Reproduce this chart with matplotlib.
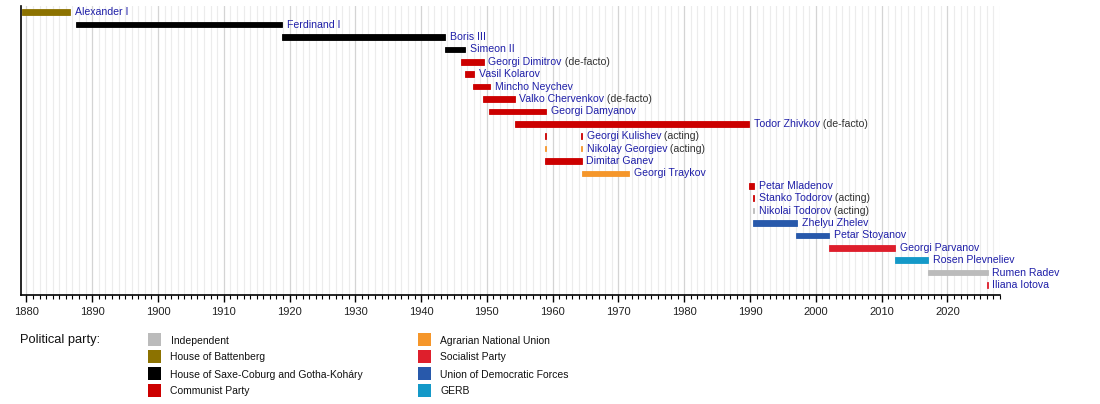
import matplotlib
matplotlib.use('Agg')
import matplotlib.pyplot as plt
from matplotlib.patches import Rectangle
from matplotlib.ticker import MultipleLocator

plt.rcParams['font.family'] = ['Liberation Sans', 'DejaVu Sans']

# parties and colours
party_names = ['Independent', 'House of Battenberg',
               'House of Saxe-Coburg and Gotha-Koháry', 'Communist Party',
               'Agrarian National Union', 'Socialist Party',
               'Union of Democratic Forces', 'GERB']
party_colors = ['#bbbbbb', '#8c7200', '#000000', '#cc0000',
                '#f5962a', '#de1f2c', '#2859ab', '#1499c8']

# heads of state, one row each
names = ['Alexander I', 'Ferdinand I', 'Boris III', 'Simeon II',
         'Georgi Dimitrov', 'Vasil Kolarov', 'Mincho Neychev',
         'Valko Chervenkov', 'Georgi Damyanov', 'Todor Zhivkov',
         'Georgi Kulishev', 'Nikolay Georgiev', 'Dimitar Ganev',
         'Georgi Traykov', 'Petar Mladenov', 'Stanko Todorov',
         'Nikolai Todorov', 'Zhelyu Zhelev', 'Petar Stoyanov',
         'Georgi Parvanov', 'Rosen Plevneliev', 'Rumen Radev', 'Iliana Iotova']
suffixes = ['', '', '', '', '(de-facto)', '', '', '(de-facto)', '',
            '(de-facto)', '(acting)', '(acting)', '', '', '', '(acting)',
            '(acting)', '', '', '', '', '', '']
periods = [
    [(1879.3, 1886.7)],
    [(1887.5, 1918.8)],
    [(1918.8, 1943.7)],
    [(1943.7, 1946.7)],
    [(1946.0, 1949.5)],
    [(1946.7, 1948.0)],
    [(1947.9, 1950.5)],
    [(1949.4, 1954.2)],
    [(1950.3, 1959.0)],
    [(1954.2, 1989.9)],
    [(1958.9, 1959.0), (1964.35, 1964.45)],
    [(1958.9, 1959.0), (1964.35, 1964.45)],
    [(1958.9, 1964.4)],
    [(1964.4, 1971.6)],
    [(1989.9, 1990.55)],
    [(1990.45, 1990.55)],
    [(1990.45, 1990.55)],
    [(1990.5, 1997.1)],
    [(1997.05, 2002.05)],
    [(2002.05, 2012.05)],
    [(2012.05, 2017.1)],
    [(2017.1, 2026.1)],
    [(2026.0, 2026.1)],
]
parties = [1, 2, 2, 2, 3, 3, 3, 3, 3, 3, 3, 4, 3, 4, 3, 3, 0, 6, 6, 5, 7, 0, 5]

fig = plt.figure(figsize=(11, 4.04), dpi=100)
W, H = 1100, 404
ax = fig.add_axes([20.5 / W, 1 - 295 / H, (1000 - 20.5) / W, (295 - 6) / H])

row_h = 0.45
for i, (name, suf, spans, p) in enumerate(zip(names, suffixes, periods, parties)):
    for s, e in spans:
        ax.barh(i, e - s, left=s, height=row_h, color=party_colors[p],
                edgecolor=party_colors[p], linewidth=0.6, zorder=3)
    end = max(e for s, e in spans)
    t = ax.annotate(name, (end, i), xytext=(3.5, 0), textcoords='offset points',
                    va='center', ha='left', fontsize=7.6, color='#1f1fa8',
                    zorder=4)
    if suf:
        ax.annotate(' ' + suf, xycoords=t, xy=(1, 0.5), va='center',
                    ha='left', fontsize=7.6, color='#333333', zorder=4)

ax.set_xlim(1879.1, 2028)
ax.set_ylim(22.8, -0.5)
ax.xaxis.set_major_locator(MultipleLocator(10))
ax.xaxis.set_minor_locator(MultipleLocator(1))
ax.set_yticks([])
ax.grid(which='major', axis='x', color='#d4d4d4', linewidth=0.9, zorder=0)
ax.grid(which='minor', axis='x', color='#ececec', linewidth=0.8, zorder=0)
for sp in ['top', 'right']:
    ax.spines[sp].set_visible(False)
ax.spines['left'].set_linewidth(1.2)
ax.spines['bottom'].set_linewidth(1.2)
ax.tick_params(axis='x', which='major', length=5, width=1, labelsize=8,
               labelcolor='#222222', pad=3.5)
ax.tick_params(axis='x', which='minor', length=3, width=0.8)

# legend block
lg = fig.add_axes([0, 0, 1, 1])
lg.set_xlim(0, W)
lg.set_ylim(H, 0)
lg.axis('off')
lg.text(20, 340, 'Political party:', fontsize=9.3, va='center', ha='left',
        color='#111111')
for k, (pn, pc) in enumerate(zip(party_names, party_colors)):
    col, row = divmod(k, 4)
    x0 = 147.5 + col * 270
    y0 = 339.5 + row * 17
    lg.add_patch(Rectangle((x0, y0 - 6.5), 13.5, 13, color=pc, linewidth=0))
    lg.text(x0 + 23, y0 + 1, pn, fontsize=7.5, va='center', ha='left',
            color='#111111')

fig.savefig('out.png', dpi=100)
